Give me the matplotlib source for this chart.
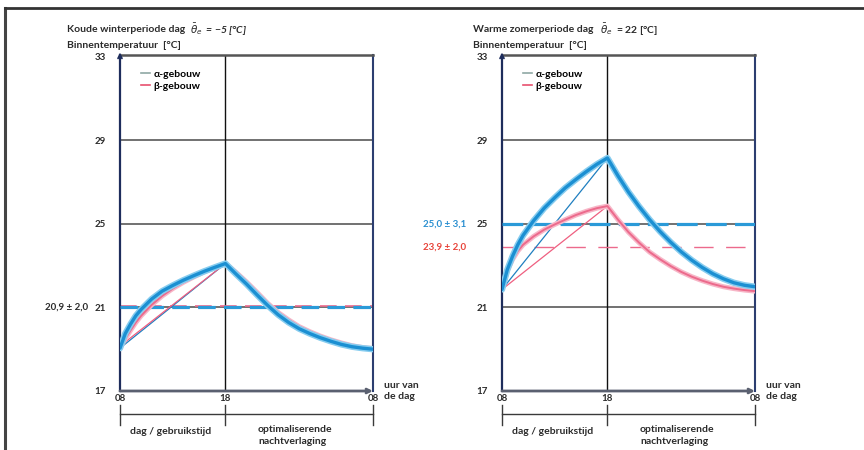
import matplotlib
matplotlib.use("Agg")
import matplotlib.pyplot as plt
from matplotlib.lines import Line2D

plt.rcParams['font.family'] = ['Lato', 'DejaVu Sans']
plt.rcParams['font.size'] = 7

hours = [0, 0.5, 1, 1.5, 2, 3, 4, 5, 6, 7, 8, 9, 10, 11, 12, 13, 14, 15, 16, 17, 18, 19,
         20, 21, 22, 23, 24]
xtick_pos = [0, 10, 24]
xtick_labels = ['08', '18', '08']
yticks = [17, 21, 25, 29, 33]

# koude winterdag
winter_alpha = [19.05, 19.75, 20.2, 20.6, 20.9, 21.4, 21.78, 22.05, 22.3, 22.52, 22.73,
                22.92, 23.1, 22.6, 22.12, 21.6, 21.1, 20.65, 20.28, 19.98, 19.75, 19.55,
                19.38, 19.23, 19.12, 19.05, 19.0]
winter_beta = [19.06, 19.5, 19.9, 20.28, 20.6, 21.12, 21.55, 21.9, 22.2, 22.46, 22.7,
               22.91, 23.1, 22.68, 22.22, 21.72, 21.2, 20.76, 20.4, 20.08, 19.84, 19.63,
               19.45, 19.3, 19.17, 19.08, 19.03]
winter_alpha_lin = [19.05, 23.1]
winter_beta_lin = [19.15, 23.1]
winter_mean_alpha = 21.0
winter_mean_beta = 21.06

# warme zomerdag
summer_alpha = [21.86, 22.8, 23.45, 24.0, 24.45, 25.15, 25.75, 26.25, 26.72, 27.12, 27.5,
                27.85, 28.15, 27.3, 26.52, 25.83, 25.2, 24.63, 24.12, 23.66, 23.26, 22.91,
                22.61, 22.37, 22.18, 22.06, 21.99]
summer_beta = [21.86, 22.75, 23.3, 23.7, 24.0, 24.4, 24.72, 24.97, 25.2, 25.42, 25.6,
               25.75, 25.85, 25.2, 24.6, 24.1, 23.65, 23.3, 22.98, 22.7, 22.47, 22.28,
               22.12, 21.99, 21.9, 21.83, 21.78]
summer_alpha_lin = [21.86, 28.15]
summer_beta_lin = [21.86, 25.85]
summer_mean_alpha = 25.0
summer_mean_beta = 23.9

BLUE = '#1b8fd2'
BLUE_HALO = '#86ccef'
PINK = '#ec6a8c'
PINK_HALO = '#f7b6c7'
DARK = '#2b2b2b'


def panel(ax, alpha, beta, alpha_lin, beta_lin, mean_a, mean_b, dash_a, dash_b, lw_b):
    ax.set_xlim(0, 24)
    ax.set_ylim(17, 33.08)
    for g in [21, 25, 29]:
        ax.axhline(g, color='#4a4a4a', lw=1.1, zorder=1)
    ax.axvline(10, color='#111111', lw=1.0, zorder=1)

    # gemiddelden
    ax.plot([0, 24], [mean_b, mean_b], color=PINK, lw=lw_b, dashes=dash_b, zorder=2)
    ax.plot([0, 24], [mean_a, mean_a], color='#2a9ad8', lw=2.3, dashes=dash_a, zorder=3)

    # rechte lijnen
    ax.plot([0, 10], alpha_lin, color='#1f7fc0', lw=0.9, zorder=4)
    ax.plot([0, 10], beta_lin, color='#ef5f80', lw=0.9, zorder=4)

    # verloop
    ax.plot(hours, beta, color=PINK_HALO, lw=3.6, solid_capstyle='round',
            solid_joinstyle='round', zorder=4)
    ax.plot(hours, beta, color=PINK, lw=1.4, solid_capstyle='round',
            solid_joinstyle='round', zorder=5)
    ax.plot(hours, alpha, color=BLUE_HALO, lw=4.6, solid_capstyle='round',
            solid_joinstyle='round', zorder=6)
    ax.plot(hours, alpha, color=BLUE, lw=2.4, solid_capstyle='round',
            solid_joinstyle='round', zorder=7)

    ax.spines['left'].set_color('#1e2d5c')
    ax.spines['left'].set_linewidth(1.6)
    ax.spines['right'].set_color('#2c3e70')
    ax.spines['right'].set_linewidth(1.5)
    ax.spines['top'].set_color('#555555')
    ax.spines['top'].set_linewidth(1.8)
    ax.spines['bottom'].set_visible(False)

    ax.set_yticks(yticks)
    ax.set_yticklabels([str(t) for t in yticks], fontweight='bold', color=DARK)
    ax.tick_params(axis='y', length=0, pad=10)
    ax.set_xticks(xtick_pos)
    ax.set_xticklabels(xtick_labels, fontweight='bold', color=DARK)
    ax.tick_params(axis='x', length=0, pad=2)

    # x-as met pijl
    ax.annotate('', xy=(24, 17), xytext=(0, 17), annotation_clip=False,
                arrowprops=dict(arrowstyle='->', color='#5a6070', lw=2, shrinkA=0, shrinkB=0))
    ax.annotate('', xy=(0, 33.2), xytext=(0, 32.4), annotation_clip=False,
                arrowprops=dict(arrowstyle='->', color='#1e2d5c', lw=1.3, shrinkA=0, shrinkB=0))
    ax.text(1.045, 0.0, 'uur van\nde dag', transform=ax.transAxes, ha='left', va='center',
            fontweight='bold', color=DARK, linespacing=1.3, fontsize=7.5)

    # tijdsindeling onder de grafiek
    ax.plot([0, 24], [15.9, 15.9], color='#3a3a3a', lw=1.0, clip_on=False)
    for xp in xtick_pos:
        ax.plot([xp, xp], [16.35, 15.35], color='#3a3a3a', lw=1.0, clip_on=False)
    ax.text(4.8, 15.05, 'dag / gebruikstijd', ha='center', va='center',
            fontweight='bold', color=DARK, fontsize=7.5)
    ax.text(13.1, 15.35, 'optimaliserende\nnachtverlaging', ha='left', va='top',
            fontweight='bold', color=DARK, linespacing=1.35, fontsize=7.5)

    handles = [Line2D([], [], color='#8fa8a4', lw=1.2), Line2D([], [], color='#e8506e', lw=1.2)]
    ax.legend(handles, ['α-gebouw', 'β-gebouw'], loc='upper left', bbox_to_anchor=(0.045, 0.985),
              frameon=False, handlelength=0.9, handletextpad=0.3, labelspacing=0.25,
              prop={'weight': 'bold', 'size': 7.5})


fig = plt.figure(figsize=(8.64, 4.5), dpi=100)
fig.patch.set_facecolor('white')

ax1 = fig.add_axes([120 / 864, 59 / 450, 253 / 864, 336 / 450])
ax2 = fig.add_axes([502 / 864, 59 / 450, 253 / 864, 336 / 450])

panel(ax1, winter_alpha, winter_beta, winter_alpha_lin, winter_beta_lin,
      winter_mean_alpha, winter_mean_beta, (5.5, 2.6), (10, 5), 1.2)
panel(ax2, summer_alpha, summer_beta, summer_alpha_lin, summer_beta_lin,
      summer_mean_alpha, summer_mean_beta, (6.5, 2.6), (14, 9), 1.0)

ax1.text(-0.125, winter_mean_alpha, '20,9 ± 2,0', transform=ax1.get_yaxis_transform(),
         ha='right', va='center', fontweight='bold', color=DARK)
ax2.text(-0.14, summer_mean_alpha, '25,0 ± 3,1', transform=ax2.get_yaxis_transform(),
         ha='right', va='center', fontweight='bold', color='#2a8fd0')
ax2.text(-0.14, summer_mean_beta, '23,9 ± 2,0', transform=ax2.get_yaxis_transform(),
         ha='right', va='center', fontweight='bold', color='#e8443a')

# titels
fig.text(67 / 864, 1 - 30 / 450, 'Koude winterperiode dag', ha='left', va='center',
         fontweight='bold', color=DARK, fontsize=7.5)
fig.text(190 / 864, 1 - 30 / 450, r'$\bar{\theta}_e$  = −5 [°C]', ha='left',
         va='center', color=DARK, fontsize=7.5, style='italic', fontweight='bold')
fig.text(67 / 864, 1 - 46 / 450, 'Binnentemperatuur  [°C]', ha='left', va='center',
         fontweight='bold', color=DARK, fontsize=7.5)
fig.text(473 / 864, 1 - 30 / 450, 'Warme zomerperiode dag', ha='left', va='center',
         fontweight='bold', color=DARK, fontsize=7.5)
fig.text(600 / 864, 1 - 30 / 450, r'$\bar{\theta}_e$  = 22 [°C]', ha='left',
         va='center', color=DARK, fontsize=7.5, fontweight='bold')
fig.text(473 / 864, 1 - 46 / 450, 'Binnentemperatuur  [°C]', ha='left', va='center',
         fontweight='bold', color=DARK, fontsize=7.5)

# kader van de scan
fig.add_artist(Line2D([5 / 864, 5 / 864], [0, 1 - 8 / 450], color='#444444', lw=2.2,
                      transform=fig.transFigure))
fig.add_artist(Line2D([5 / 864, 1], [1 - 8 / 450, 1 - 8 / 450], color='#333333', lw=2.0,
                      transform=fig.transFigure))

fig.savefig('out.png', dpi=100)
